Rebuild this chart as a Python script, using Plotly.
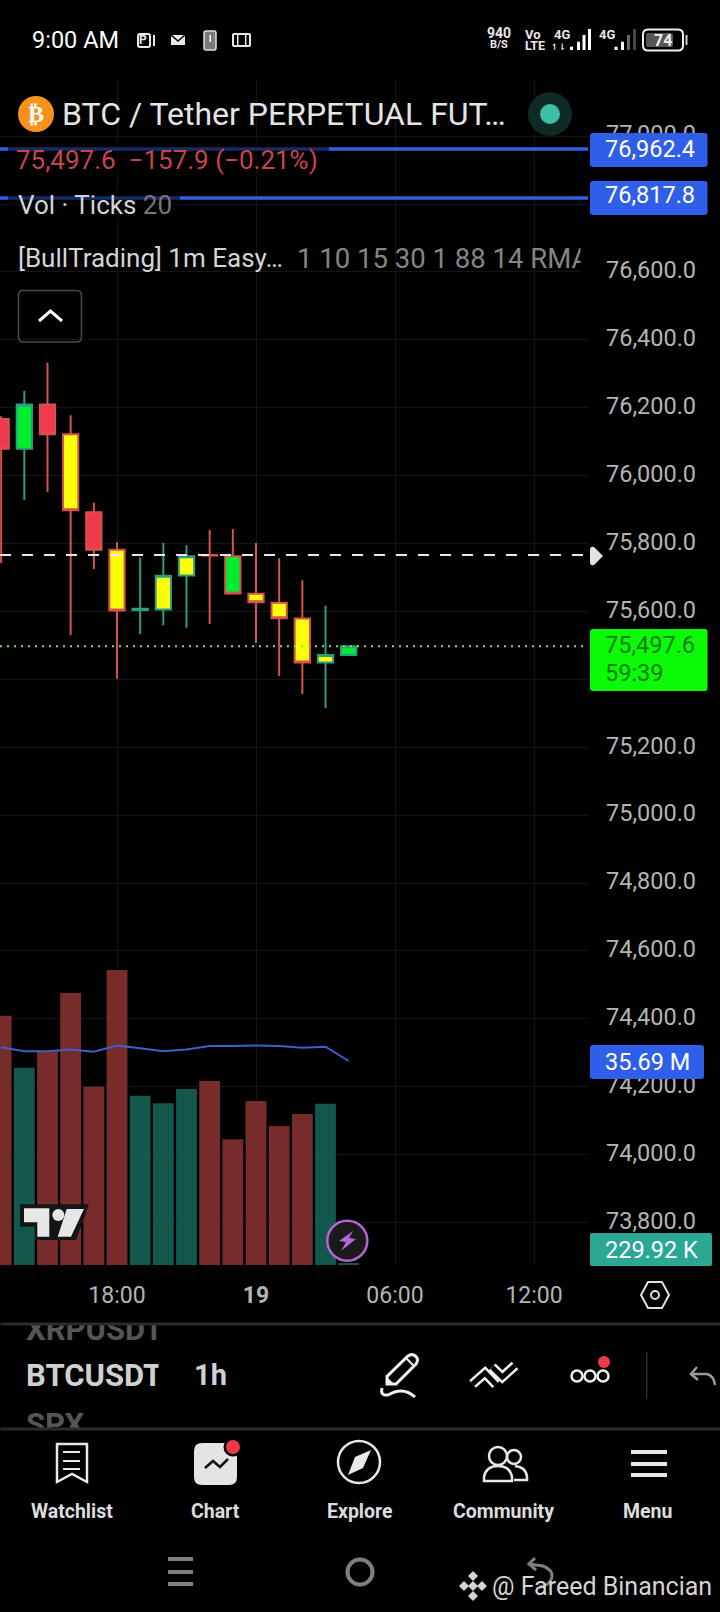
import re
import plotly.graph_objects as go

W, H = 720, 1612
FONT = "Roboto"

# hourly bars, 13:00 on the 18th up to 04:00 on the 19th
hours = [13, 14, 15, 16, 17, 18, 19, 20, 21, 22, 23, 24, 25, 26, 27, 28]
opens = [76167, 76079, 76210, 76122, 75892, 75782, 75604, 75606, 75706, 75766, 75763, 75652, 75626, 75579, 75450, 75472]
highs = [76175, 76250, 76333, 76178, 75920, 75805, 75759, 75802, 75795, 75840, 75843, 75802, 75757, 75692, 75617, 75497.6]
lows = [75743, 75928, 75952, 75530, 75725, 75402, 75533, 75559, 75552, 75563, 75653, 75507, 75410, 75357, 75315, 75472]
closes = [76079, 76210, 76122, 75898, 75782, 75603, 75608, 75705, 75763, 75765, 75653, 75627, 75580, 75450, 75472, 75497.6]
body_kind = ["plain", "lime", "plain", "yellow", "plain", "yellow", "plain", "yellow", "yellow", "plain",
             "lime", "yellow", "yellow", "yellow", "yellow", "lime"]

# volume in millions and its moving average
volumes = [43.6, 34.5, 37.4, 47.6, 31.2, 51.6, 29.6, 28.3, 30.8, 32.2, 22.0, 28.7, 24.3, 26.4, 28.2, 0.23]
vol_ma = [38.1, 37.4, 37.4, 37.7, 37.3, 38.4, 37.9, 37.4, 37.7, 38.3, 38.3, 38.4, 38.3, 38.0, 38.2, 35.69]

y_ticks = [73800, 74000, 74200, 74400, 74600, 74800, 75000, 75200, 75400, 75600, 75800, 76000, 76200, 76400, 76600, 76800, 77000]
x_ticks = [18, 24, 30, 36]
x_labels = ["18:00", "<b>19</b>", "06:00", "12:00"]

line_prices = [76962.4, 76817.8]
dashed_price = 75766
last_price = 75497.6

RED = "#f0394a"
RED_EDGE = "#d6524f"
GREEN_EDGE = "#2a9d83"
LIME = "#00ee2e"
YELLOW = "#ffff0a"
GREY = "#b4b4b4"


def px(x):
    return x / W


def py(y):
    return 1 - y / H


def to_paper(path):
    # path is written in screen pixels, numbers alternate x and y
    out = []
    is_x = True
    for tok in re.findall(r"[A-Za-z]|-?[\d.]+", path):
        if tok.isalpha():
            out.append(tok)
        else:
            out.append(f"{px(float(tok)) if is_x else py(float(tok)):.5f}")
            is_x = not is_x
    return " ".join(out)


shapes = []
labels = []


def draw(path, fill=None, line=None, width=2):
    shapes.append(dict(type="path", xref="paper", yref="paper", path=to_paper(path), layer="above",
                       fillcolor=fill if fill else "rgba(0,0,0,0)",
                       line=dict(color=line if line else "rgba(0,0,0,0)", width=width if line else 0)))


def rect(x0, y0, x1, y1, fill=None, line=None, width=2, r=0):
    if r:
        draw(f"M {x0+r} {y0} L {x1-r} {y0} Q {x1} {y0} {x1} {y0+r} L {x1} {y1-r} Q {x1} {y1} {x1-r} {y1} "
             f"L {x0+r} {y1} Q {x0} {y1} {x0} {y1-r} L {x0} {y0+r} Q {x0} {y0} {x0+r} {y0} Z", fill, line, width)
    else:
        draw(f"M {x0} {y0} L {x1} {y0} L {x1} {y1} L {x0} {y1} Z", fill, line, width)


def circle(cx, cy, r, fill=None, line=None, width=2):
    shapes.append(dict(type="circle", xref="paper", yref="paper", layer="above",
                       x0=px(cx - r), x1=px(cx + r), y0=py(cy + r), y1=py(cy - r),
                       fillcolor=fill if fill else "rgba(0,0,0,0)",
                       line=dict(color=line if line else "rgba(0,0,0,0)", width=width if line else 0)))


def text(s, x, y, size, color="#e0e0e0", anchor="left", family=FONT):
    labels.append(dict(text=s, x=px(x), y=py(y), xref="paper", yref="paper", showarrow=False, xanchor=anchor,
                       yanchor="middle", font=dict(family=family, size=size, color=color), borderpad=0, borderwidth=0))


def mask(x0, y0, x1, y1, color="#000000"):
    # blank annotation, covers text drawn before it
    labels.append(dict(text=" ", x=px(x0), y=py(y0), xref="paper", yref="paper", showarrow=False, xanchor="left",
                       yanchor="top", width=x1 - x0, height=y1 - y0, bgcolor=color, borderpad=0,
                       font=dict(size=1)))


fig = go.Figure()

# candles, one trace per fill and edge colour pair
for kind, fill_col in [("plain", None), ("lime", LIME), ("yellow", YELLOW)]:
    for rising in [True, False]:
        idx = [i for i in range(len(hours)) if body_kind[i] == kind and (closes[i] >= opens[i]) == rising]
        if not idx:
            continue
        edge = GREEN_EDGE if rising else RED_EDGE
        style = dict(fillcolor=fill_col if fill_col else (GREEN_EDGE if rising else RED),
                     line=dict(color=edge, width=2))
        fig.add_trace(go.Candlestick(x=[hours[i] for i in idx], open=[opens[i] for i in idx],
                                     high=[highs[i] for i in idx], low=[lows[i] for i in idx],
                                     close=[closes[i] for i in idx], increasing=style, decreasing=style,
                                     whiskerwidth=0, hoverinfo="skip", showlegend=False))

bar_colors = ["#13574d" if c >= o else "#782b2b" for o, c in zip(opens, closes)]
fig.add_trace(go.Bar(x=hours, y=volumes, marker=dict(color=bar_colors, line=dict(width=0)), yaxis="y2",
                     hoverinfo="skip", showlegend=False))
fig.add_trace(go.Scatter(x=hours, y=vol_ma, mode="lines", line=dict(color="#3d5fc9", width=2), yaxis="y2",
                         hoverinfo="skip", showlegend=False))

# price lines
for p in line_prices:
    shapes.append(dict(type="line", xref="x domain", yref="y", x0=0, x1=1, y0=p, y1=p, layer="above",
                       line=dict(color="#3460e0", width=3.5)))
shapes.append(dict(type="line", xref="x domain", yref="y", x0=0, x1=1, y0=dashed_price, y1=dashed_price, layer="above",
                   line=dict(color="#e8e8e8", width=2, dash="11px,11px")))
shapes.append(dict(type="line", xref="x domain", yref="y", x0=0, x1=0.995, y0=last_price, y1=last_price, layer="above",
                   line=dict(color="#86d96f", width=2, dash="2px,5px")))

# legend backdrop dims the price lines under the text
rect(8, 140, 329, 176, fill="rgba(0,0,0,0.55)")
rect(8, 188, 180, 224, fill="rgba(0,0,0,0.55)")

# header
circle(36, 114, 18, fill="#f7931a")
text("<b>₿</b>", 36, 114, 24, "#ffffff", "center", "DejaVu Sans")
text("BTC / Tether PERPETUAL FUT…", 62, 114, 32, "#e4e4e4")
circle(550, 114, 22, fill="#0e2a27")
circle(550, 114, 10, fill="#3dbfa5")
text("75,497.6&nbsp;&nbsp;−157.9 (−0.21%)", 16, 160, 26, "#c8434d")
text("Vol · Ticks <span style='color:#777777'>20</span>", 18, 205, 26, "#d4d4d4")
text("[BullTrading] 1m Easy…", 18, 258, 26, "#d4d4d4")
text("1 10 15 30 1 88 14 RMA", 297, 258, 27.5, "#858585")
mask(580, 240, 589, 275)
rect(18.5, 290.5, 81.5, 342, line="#4a4a4a", width=1.5, r=5)
draw("M 39 321 L 50.5 311 L 62 321", line="#ffffff", width=3)

# price tags
rect(590, 133, 707.5, 167, fill="#2f5fe8", r=3)
rect(590, 181, 707.5, 215, fill="#2f5fe8", r=3)
text("76,962.4", 605, 149, 23.5, "#ffffff")
text("76,817.8", 605, 195, 23.5, "#ffffff")
draw("M 590 550 Q 590 546 594 547 L 603 556 L 594 565 Q 590 566 590 562 Z", fill="#e4e4e4")
rect(590, 629, 707.5, 691, fill="#0bfa05", r=3)
text("75,497.6", 605, 645, 23.5, "#0a7d12")
text("59:39", 605, 673, 23.5, "#0a7d12")
rect(590, 1045, 704, 1079, fill="#2f5fe8", r=3)
text("35.69 M", 605, 1062, 23.5, "#ffffff")
rect(590, 1233, 712, 1266, fill="#2aa893", r=2)
text("229.92 K", 605, 1250, 23.5, "#ffffff")

# tradingview logo
draw("M 20 1204.3 L 89 1204.3 L 76 1240 L 35 1240 L 35 1226.7 L 20 1226.7 Z", fill="#141414")
draw("M 24 1208.3 L 49.3 1208.3 L 49.3 1236.7 L 37.3 1236.7 L 37.3 1222.3 L 24 1222.3 Z", fill="#e6e6e6")
circle(58.3, 1215, 6, fill="#e6e6e6")
draw("M 66.7 1209 L 84 1209 L 71 1236.7 L 57.7 1236.7 Z", fill="#e6e6e6")

# lightning badge
circle(347.3, 1240.7, 20, fill="#1a1a1a", line="#b565d6", width=2.5)
draw("M 353 1231 L 339 1241 L 346 1242 L 341 1251 L 356 1239 L 349 1238 Z", fill="#b565d6")

# hexagon settings
draw("M 648 1282 L 662 1282 L 669 1295 L 662 1308 L 648 1308 L 641 1295 Z", line="#e0e0e0", width=2)
circle(655, 1295, 4, line="#e0e0e0", width=2)

# status bar
text("9:00 AM", 32, 40, 23.5, "#ffffff")
rect(138, 34, 150, 47, line="#e8e8e8", width=2, r=2)
text("<b>P</b>", 139, 40, 12, "#e8e8e8")
rect(153, 35, 155, 46, fill="#e8e8e8")
draw("M 171 35 L 185 35 L 185 45 L 171 45 Z", fill="#e8e8e8")
draw("M 171 35 L 178 41 L 185 35", line="#000000", width=1.5)
rect(204, 31, 216, 50, fill="#7a7a7a", line="#e0e0e0", width=1.5, r=2)
rect(209.5, 35, 211, 42, fill="#ffffff")
rect(233, 34, 250, 46, line="#e8e8e8", width=2, r=1)
rect(237, 34, 238.5, 46, fill="#e8e8e8")
rect(245, 34, 246.5, 46, fill="#e8e8e8")
text("<b>940</b>", 499, 33, 14, "#e8e8e8", "center")
text("<b>B/S</b>", 499, 45, 11, "#e8e8e8", "center")
text("<b>Vo</b>", 533, 34, 13, "#e8e8e8", "center")
text("<b>LTE</b>", 535, 46, 12.5, "#e8e8e8", "center")
text("<b>4G</b>", 562, 35, 13, "#e8e8e8", "center")
text("<b>4G</b>", 607, 35, 13, "#e8e8e8", "center")
text("<b>↿⇂</b>", 558, 47, 9, "#e8e8e8", "center", "DejaVu Sans")
for x0, top, col in [(570, 46.7, "#ffffff"), (577, 41.7, "#ffffff"), (582.5, 35, "#ffffff"), (588, 29, "#ffffff"),
                     (614.5, 46.7, "#ffffff"), (621, 41.7, "#ffffff"), (627, 35, "#666666"), (633, 29, "#444444")]:
    rect(x0, top, x0 + 3, 50, fill=col)
rect(643, 29.5, 683, 50.5, line="#f0f0f0", width=2, r=5)
rect(646, 33, 673, 47, fill="#555555", r=2)
rect(685.5, 35, 687.5, 45, fill="#cccccc")
text("<b>74</b>", 663, 40, 16, "#f0f0f0", "center")

# tool strip, the neighbours in the symbol wheel are cut by the separators
rect(646, 1352, 647.5, 1399, fill="#2b2b2b")
text("<b>XRPUSDT</b>", 26, 1329, 31, "#555555")
mask(0, 1306, 200, 1323)
mask(158, 1323, 200, 1345)
mask(0, 1322, W, 1324, "#2b2b2b")
text("<b>BTCUSDT</b>", 26, 1375, 31, "#d0d0d0")
mask(158, 1355, 190, 1395)
text("<b>1h</b>", 194, 1375, 29, "#d0d0d0")
text("<b>SPX</b>", 26, 1424, 31, "#555555")
mask(20, 1428, 100, 1439)
mask(0, 1427, W, 1429, "#2b2b2b")

# pencil
draw("M 387 1384 L 387 1376.5 L 408 1356 Q 412 1353 416 1356.5 Q 419 1360 416 1364 L 396 1384 Z", line="#f0f0f0", width=3)
draw("M 387 1377 L 387 1385 L 395 1385 Z", fill="#f0f0f0")
draw("M 406 1358 L 414 1366", line="#f0f0f0", width=2)
draw("M 382 1388 Q 380 1396 388 1395 Q 403 1386 415 1397", line="#f0f0f0", width=3)
# drawing tools icon, white tube with a black core
for pts in ["M 472.5 1384 L 485 1373 L 496 1384.5", "M 492 1367 L 502.3 1377 L 515 1365.5"]:
    draw(pts, line="#f0f0f0", width=10)
    draw(pts, line="#000000", width=5)
# three dots and their badge
for cx in [577, 590, 603]:
    circle(cx, 1376, 5.5, line="#f0f0f0", width=2.5)
circle(604, 1362, 6, fill="#ec3b46")
draw("M 697 1367 L 691 1374 L 698 1380", line="#9a9a9a", width=2.5)
draw("M 691 1374 L 707 1374 Q 714 1376 715 1385", line="#9a9a9a", width=2.5)

# bottom navigation
draw("M 57 1444 L 87 1444 L 87 1482 L 72 1474 L 57 1482 Z", line="#e8e8e8", width=2.5)
for y in [1452, 1461, 1469]:
    rect(63, y - 1, 80, y + 1, fill="#e8e8e8")
rect(194, 1443, 237, 1485, fill="#e4e4e4", r=8)
draw("M 205 1468 L 213 1461 L 220 1467 L 228 1459", line="#111111", width=2.5)
circle(233, 1447, 9.5, fill="#000000")
circle(233, 1447, 7, fill="#ec3b46")
circle(359, 1462, 21, line="#e8e8e8", width=2.5)
draw("M 371 1450 L 363 1468 L 348 1475 L 355 1457 Z", fill="#e8e8e8")
circle(498, 1456, 9, line="#e8e8e8", width=2.5)
circle(514, 1457, 7, line="#e8e8e8", width=2.5)
draw("M 484 1481 L 484 1477 Q 486 1466 498 1466 Q 510 1466 512 1477 L 512 1481 Z", line="#e8e8e8", width=2.5)
draw("M 515 1466 Q 526 1467 527 1477 L 527 1480 L 514 1480", line="#e8e8e8", width=2.5)
for y in [1452, 1464, 1475]:
    rect(631, y - 2, 667, y + 2, fill="#e8e8e8")
for s, x in [("Watchlist", 72), ("Chart", 215), ("Explore", 360), ("Community", 504), ("Menu", 647)]:
    text(f"<b>{s}</b>", x, 1511, 19.5, "#dcdcdc", "center")

# android keys and watermark
for y in [1559, 1572, 1584]:
    rect(168, y - 2, 193, y + 2, fill="#7f7f7f")
circle(360, 1572, 12.5, line="#7f7f7f", width=4)
draw("M 535 1558 L 529 1564 L 536 1570", line="#7f7f7f", width=3)
draw("M 529 1564 L 543 1566 Q 553 1570 552 1577 Q 550 1586 539 1587", line="#7f7f7f", width=3)
for cx, cy in [(473, 1576), (464, 1586), (482, 1586), (473, 1596), (473, 1586)]:
    draw(f"M {cx} {cy-5} L {cx+5} {cy} L {cx} {cy+5} L {cx-5} {cy} Z", fill="#d4d4d4")
text("@ Fareed Binancian", 492, 1586, 25, "#d4d4d4")

grid = "#151515"
fig.update_layout(
    width=W, height=H, autosize=False, margin=dict(l=0, r=0, t=0, b=0),
    paper_bgcolor="#000000", plot_bgcolor="#000000", showlegend=False, bargap=0.1, boxgap=0.34, boxgroupgap=0,
    font=dict(family=FONT, color=GREY),
    xaxis=dict(domain=[0, 588 / W], range=[12.95, 38.33], tickmode="array", tickvals=x_ticks, ticktext=x_labels,
               showgrid=True, gridcolor=grid, gridwidth=1, zeroline=False, ticks="", ticklen=0,
               tickfont=dict(family=FONT, size=23, color=GREY), ticklabelstandoff=14,
               rangeslider=dict(visible=False), showline=False),
    yaxis=dict(domain=[1 - 1265 / H, 1 - 80 / H], range=[73675, 77165.5], side="right", tickmode="array",
               tickvals=y_ticks, ticktext=[f"{v:,.1f}" for v in y_ticks], showgrid=True, gridcolor=grid, gridwidth=1,
               zeroline=False, ticks="", ticklen=0, tickfont=dict(family=FONT, size=23.5, color=GREY),
               ticklabelstandoff=17, ticklabelshift=-2, showline=False),
    yaxis2=dict(domain=[1 - 1265 / H, 1 - 80 / H], range=[0, 207.3], overlaying="y", visible=False),
    shapes=shapes, annotations=labels,
)

fig.write_html("out.html", config=dict(displayModeBar=False),
               post_script="document.body.style.margin='0';document.body.style.background='#000';")
